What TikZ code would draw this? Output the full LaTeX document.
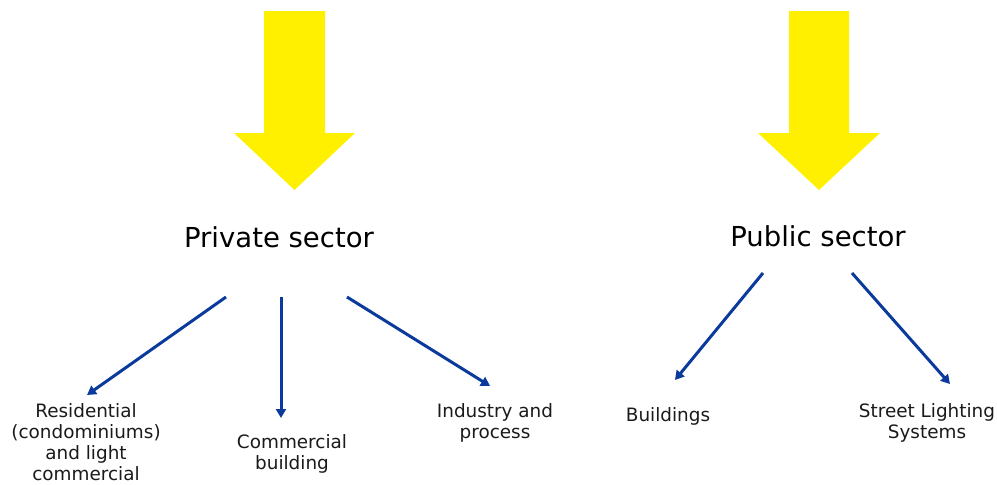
\documentclass[tikz,border=0pt]{standalone}
\usepackage{fontspec}
\setmainfont{DejaVu Sans}
\usetikzlibrary{arrows.meta}
\definecolor{sunyellow}{HTML}{FFF000}
\definecolor{flowblue}{HTML}{0A3A9C}
\definecolor{labelgray}{HTML}{1A1A1A}
\tikzset{
  bigarrow/.style={fill=sunyellow, draw=none},
  sectorlabel/.style={font=\fontsize{27.5}{32}\selectfont, text=black, inner sep=0pt},
  leaflabel/.style={font=\fontsize{18.4}{21}\selectfont, text=labelgray, align=center, inner sep=0pt},
  branch/.style={draw=flowblue, line width=3pt, -{Triangle[length=9pt,width=10pt]}},
}
\begin{document}
\begin{tikzpicture}[x=1pt, y=-1pt]
\useasboundingbox (0,0) rectangle (997,485);

% downward block arrows above each sector
\path[bigarrow] (264,11) -- (325,11) -- (325,133) -- (355,133) -- (294.5,190)
  -- (234,133) -- (264,133) -- cycle;
\path[bigarrow] (789,11) -- (849,11) -- (849,133) -- (880,133) -- (819,190)
  -- (758,133) -- (789,133) -- cycle;

% sector headings
\node[sectorlabel] (private) at (279,237) {Private sector};
\node[sectorlabel] (public) at (818,236) {Public sector};

% leaf categories
\node[leaflabel] (resid) at (86,442.5) {Residential\\(condominiums)\\and light\\commercial};
\node[leaflabel] (comm) at (292,454) {Commercial\\building};
\node[leaflabel] (indus) at (495,423) {Industry and\\process};
\node[leaflabel] (bldg) at (668,416) {Buildings};
\node[leaflabel] (street) at (927,423) {Street Lighting\\Systems};

% branch end points
\coordinate (p1s) at (226,297); \coordinate (p1e) at (87,395);
\coordinate (p2s) at (281,297); \coordinate (p2e) at (281,418);
\coordinate (p3s) at (347,297); \coordinate (p3e) at (490,386);
\coordinate (q1s) at (763,273); \coordinate (q1e) at (675,380);
\coordinate (q2s) at (852,273); \coordinate (q2e) at (950,384);

\draw[branch] (p1s) -- (p1e);
\draw[branch] (p2s) -- (p2e);
\draw[branch] (p3s) -- (p3e);
\draw[branch] (q1s) -- (q1e);
\draw[branch] (q2s) -- (q2e);
\end{tikzpicture}
\end{document}
